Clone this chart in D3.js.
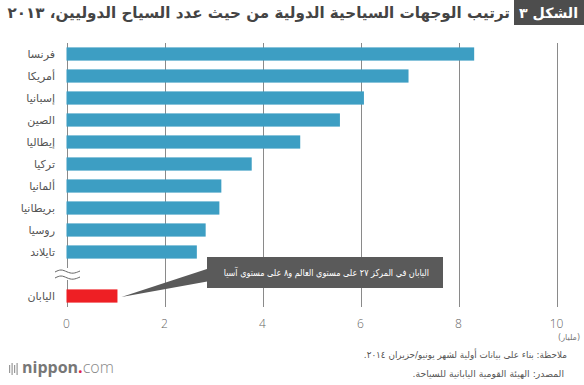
<!DOCTYPE html>
<meta charset="utf-8">
<style>
body { margin: 0; background: #fff; }
svg text { font-family: "DejaVu Sans", sans-serif; }
.grid line { stroke: #8a8a8a; stroke-width: 1; }
</style>
<svg width="584" height="385"></svg>
<script src="https://d3js.org/d3.v7.min.js"></script>
<script>
// countries (top to bottom) and values, unit as shown on the axis
var countries = ["فرنسا", "أمريكا", "إسبانيا", "الصين", "إيطاليا", "تركيا", "ألمانيا", "بريطانيا", "روسيا", "تايلاند"];
var values = [8.32, 6.98, 6.07, 5.58, 4.77, 3.78, 3.16, 3.12, 2.84, 2.66];
var japanLabel = "اليابان";
var japanValue = 1.04;
var ticks = [0, 2, 4, 6, 8, 10];

var svg = d3.select("svg");

var rows = countries.concat(["__break__", japanLabel]);

var x = d3.scaleLinear().domain([0, 10]).range([66.5, 556.5]);
var y = d3.scaleBand().domain(rows).range([43, 307]).paddingInner(0.4).paddingOuter(0.2);

// shrink/grow font so the text fills a given width (arabic font is wider than the original one)
function fit(sel, w) {
  var fs = parseFloat(sel.style("font-size"));
  var len = sel.node().getComputedTextLength();
  if (len > 0) sel.style("font-size", (fs * w / len) + "px");
  return sel;
}

// right-aligned arabic text, sx squeezes it horizontally
function rtext(xp, yp, str, size, color, sx) {
  return svg.append("text")
    .attr("transform", "translate(" + xp + "," + yp + ") scale(" + (sx || 1) + ",1)")
    .attr("direction", "rtl").attr("text-anchor", "start")
    .attr("fill", color).style("font-size", size + "px").text(str);
}

// title
svg.append("rect").attr("x", 514).attr("y", 0).attr("width", 70).attr("height", 25).attr("fill", "#4d4d4d");
fit(rtext(578, 18, "الشكل ٣", 16, "#fff").style("font-weight", "bold"), 59);
fit(rtext(510, 18, "ترتيب الوجهات السياحية الدولية من حيث عدد السياح الدوليين، ٢٠١٣", 16, "#444")
  .style("font-weight", "bold"), 503);

// grid
svg.append("g").attr("class", "grid").selectAll("line").data(ticks).enter().append("line")
  .attr("x1", function(d) { return Math.round(x(d)) + 0.5; })
  .attr("x2", function(d) { return Math.round(x(d)) + 0.5; })
  .attr("y1", 43).attr("y2", 307);

// bars
svg.append("g").selectAll("rect").data(values).enter().append("rect")
  .attr("x", x(0)).attr("y", function(d, i) { return y(countries[i]); })
  .attr("width", function(d) { return x(d) - x(0); })
  .attr("height", y.bandwidth())
  .attr("fill", "#3d9ec3");

svg.append("rect").attr("x", x(0)).attr("y", y(japanLabel))
  .attr("width", x(japanValue) - x(0)).attr("height", y.bandwidth()).attr("fill", "#ee1f24");

// category labels
svg.append("g").selectAll("text").data(countries.concat([japanLabel])).enter().append("text")
  .attr("x", 55).attr("y", function(d) { return y(d) + y.bandwidth() / 2 + 4; })
  .attr("direction", "rtl").attr("text-anchor", "start")
  .attr("fill", "#555").style("font-size", "11px").text(function(d) { return d; });

// axis break
var by = y("__break__") + y.bandwidth() / 2;
var wave = d3.line().curve(d3.curveBasis);
svg.append("rect").attr("x", 62).attr("y", by - 6).attr("width", 9).attr("height", 12).attr("fill", "#fff");
[-3, 3].forEach(function(o) {
  svg.append("path")
    .attr("d", wave([[55, by + o + 1], [61, by + o - 2], [67, by + o + 1], [73, by + o + 3], [80, by + o]]))
    .attr("fill", "none").attr("stroke", "#666").attr("stroke-width", 1);
});

// tick labels
svg.append("g").selectAll("text").data(ticks).enter().append("text")
  .attr("x", function(d) { return x(d); }).attr("y", 328)
  .attr("text-anchor", "middle").attr("fill", "#666")
  .style("font-family", "'Open Sans', sans-serif").style("font-size", "12px").style("font-weight", "300")
  .text(function(d) { return d; });
rtext(580, 340, "(مليار)", 8, "#777");

// callout
var jy = y(japanLabel) + y.bandwidth() / 2;
svg.append("path")
  .attr("d", "M" + (x(japanValue) + 4) + "," + (jy + 1) + "L210,268L210,281Z")
  .attr("fill", "#5a5a5a");
svg.append("rect").attr("x", 207).attr("y", 257).attr("width", 236).attr("height", 31).attr("fill", "#5a5a5a");
rtext(429, 276, "اليابان في المركز ٢٧ على مستوى العالم و٨ على مستوى آسيا", 9.5, "#fff", 0.85);

// notes
rtext(567, 358, "ملاحظة: بناء على بيانات أولية لشهر يونيو/حزيران ٢٠١٤.", 9.3, "#555", 0.95);
rtext(564, 377, "المصدر: الهيئة القومية اليابانية للسياحة.", 9.3, "#555");

// logo
var logo = svg.append("g").attr("transform", "translate(9,373)");
[0, 2.5, 5, 7.5].forEach(function(d, i) {
  logo.append("rect").attr("x", d).attr("y", -10 + (i % 2 ? 0 : 2)).attr("width", 1.2)
    .attr("height", i % 2 ? 12 : 8).attr("fill", "#999");
});
var lt = logo.append("text").attr("x", 13).attr("y", 0).style("font-family", "'Open Sans', sans-serif").style("font-size", "16px");
lt.append("tspan").attr("fill", "#777").style("font-weight", "bold").text("nippon");
lt.append("tspan").attr("fill", "#e0224a").style("font-weight", "bold").text(".");
lt.append("tspan").attr("fill", "#888").style("font-weight", "300").text("com");
</script>
